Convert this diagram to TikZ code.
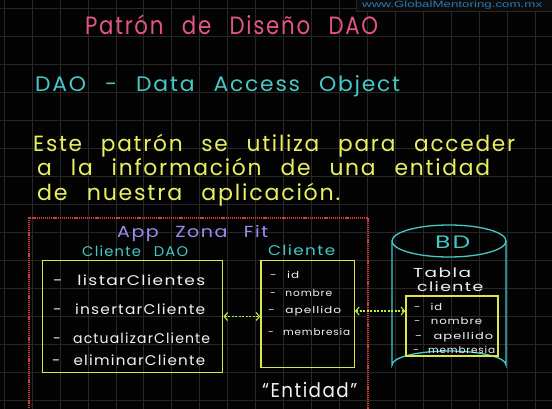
\documentclass[tikz,border=0pt]{standalone}
\usepackage{fontspec}
\usepackage{graphicx}
\usetikzlibrary{arrows.meta}
\newfontfamily\hand[LetterSpace=8,WordSpace=2.5]{Poppins}
\newfontfamily\wmfont{Liberation Sans}
\definecolor{bgc}{HTML}{030303}
\definecolor{gridc}{HTML}{272727}
\definecolor{wmbg}{HTML}{0C0C0C}
\definecolor{pinkc}{HTML}{E65582}
\definecolor{cyanc}{HTML}{45C8C8}
\definecolor{yelc}{HTML}{E8F060}
\definecolor{boxc}{HTML}{DCE64A}
\definecolor{purc}{HTML}{9C8CF2}
\definecolor{whc}{HTML}{F2F2F2}
\definecolor{redc}{HTML}{D83A3A}
\definecolor{arrc}{HTML}{B8F040}
\definecolor{wmc}{HTML}{2A78B0}
\newcommand\fw[2]{\resizebox{#1pt}{\height}{#2}}
\begin{document}
\begin{tikzpicture}[x=1pt,y=-1pt,
  txt/.style={inner sep=0pt,anchor=base west},
  fs/.style={font=\hand\fontsize{#1}{#1}\selectfont},
  ybox/.style={draw=boxc,line width=1.4pt,inner sep=0pt},
  link/.style={draw=arrc,line width=1.1pt,dash pattern=on 2pt off 1.5pt,
    {Straight Barb[length=3.5pt,width=8pt]}-{Straight Barb[length=3.5pt,width=8pt]}}]
\useasboundingbox (0,0) rectangle (552,409);
\fill[bgc] (0,0) rectangle (552,409);
\clip (0,0) rectangle (552,409);
% grid
\foreach \i in {0,...,19} \draw[gridc,line width=0.6pt] (4+\i*27.95,0) -- (4+\i*27.95,409);
\foreach \j in {0,...,14} \draw[gridc,line width=0.6pt] (0,8.5+\j*27.95) -- (552,8.5+\j*27.95);
% watermark
\fill[wmbg] (356,-2) rectangle (552,11);
\draw[gridc,line width=0.5pt] (356,-2) -- (356,11) -- (552,11);
\node[txt,text=wmc,font=\wmfont\fontsize{9}{9}\selectfont] (wm) at (362,8) {\fw{180}{www.GlobalMentoring.com.mx}};
% headings
\node[txt,fs=25,text=pinkc] (title) at (85,35) {\fw{293}{Patrón de Diseño DAO}};
\node[txt,fs=21,text=cyanc] (dao) at (35,92) {\fw{365}{DAO - Data Access Object}};
\node[txt,fs=22,text=yelc] (y1) at (33,152) {\fw{482}{Este patrón se utiliza para acceder}};
\node[txt,fs=22,text=yelc] (y2) at (37,176) {\fw{453}{a la información de una entidad}};
\node[txt,fs=22,text=yelc] (y3) at (37,201) {\fw{303}{de nuestra aplicación.}};
% app zone
\draw[redc,line width=1.1pt,dash pattern=on 1.2pt off 0.9pt] (29,412) -- (29,218) -- (368,218) -- (368,412);
\node[txt,fs=16,text=purc] (app) at (117,237) {\fw{151}{App Zona Fit}};
\node[txt,fs=14,text=cyanc] (cdao) at (82,257) {\fw{106}{Cliente DAO}};
\node[ybox,minimum width=180pt,minimum height=111.6pt] (daobox) at (132.7,316.5) {};
\node[txt,fs=14,text=whc] (m1) at (53,285) {\fw{152}{- listarClientes}};
\node[txt,fs=14,text=whc] (m2) at (53,314) {\fw{152}{- insertarCliente}};
\node[txt,fs=14,text=whc] (m3) at (53,343) {\fw{157}{- actualizarCliente}};
\node[txt,fs=14,text=whc] (m4) at (52,365) {\fw{153}{- eliminarCliente}};
% cliente
\node[txt,fs=14,text=cyanc] (cl) at (268,255) {\fw{67}{Cliente}};
\node[ybox,minimum width=93.3pt,minimum height=106.6pt] (clibox) at (307.6,314) {};
\node[txt,fs=9.5,text=whc] (a1) at (270,278) {\fw{29}{- id}};
\node[txt,fs=9.5,text=whc] (a2) at (270,296) {\fw{62}{- nombre}};
\node[txt,fs=9.5,text=whc] (a3) at (268,313) {\fw{73}{- apellido}};
\node[txt,fs=9.5,text=whc] (a4) at (268,335) {\fw{82}{- membresia}};
\node[txt,fs=20,text=whc] (ent) at (262,397) {\fw{95}{“Entidad”}};
% database
\draw[cyanc,line width=1.3pt] (392,241) -- (392,365) arc[start angle=180,end angle=360,x radius=57,y radius=14] -- (506,241);
\draw[cyanc,line width=1.3pt] (449,241) ellipse[x radius=57,y radius=16];
\node[txt,fs=18,text=cyanc] (bd) at (435,248) {\fw{35}{BD}};
\node[txt,fs=13,text=whc] (tabla) at (413,277) {\fw{58}{Tabla}};
\node[txt,fs=13,text=whc] (clte) at (417,291) {\fw{66}{cliente}};
\node[ybox,minimum width=92pt,minimum height=60pt] (tabbox) at (452,326) {};
\node[txt,fs=9.5,text=whc] (b1) at (414,310) {\fw{28}{- id}};
\node[txt,fs=9.5,text=whc] (b2) at (414,324) {\fw{68}{- nombre}};
\node[txt,fs=9.5,text=whc] (b3) at (415,339) {\fw{78}{- apellido}};
\node[txt,fs=9.5,text=whc] (b4) at (413,353) {\fw{82}{- membresia}};
% links
\draw[link] (daobox.east) -- (daobox.east -| clibox.west);
\draw[link] ([yshift=3pt]clibox.east) -- ([yshift=3pt]clibox.east -| tabbox.west);
\end{tikzpicture}
\end{document}
